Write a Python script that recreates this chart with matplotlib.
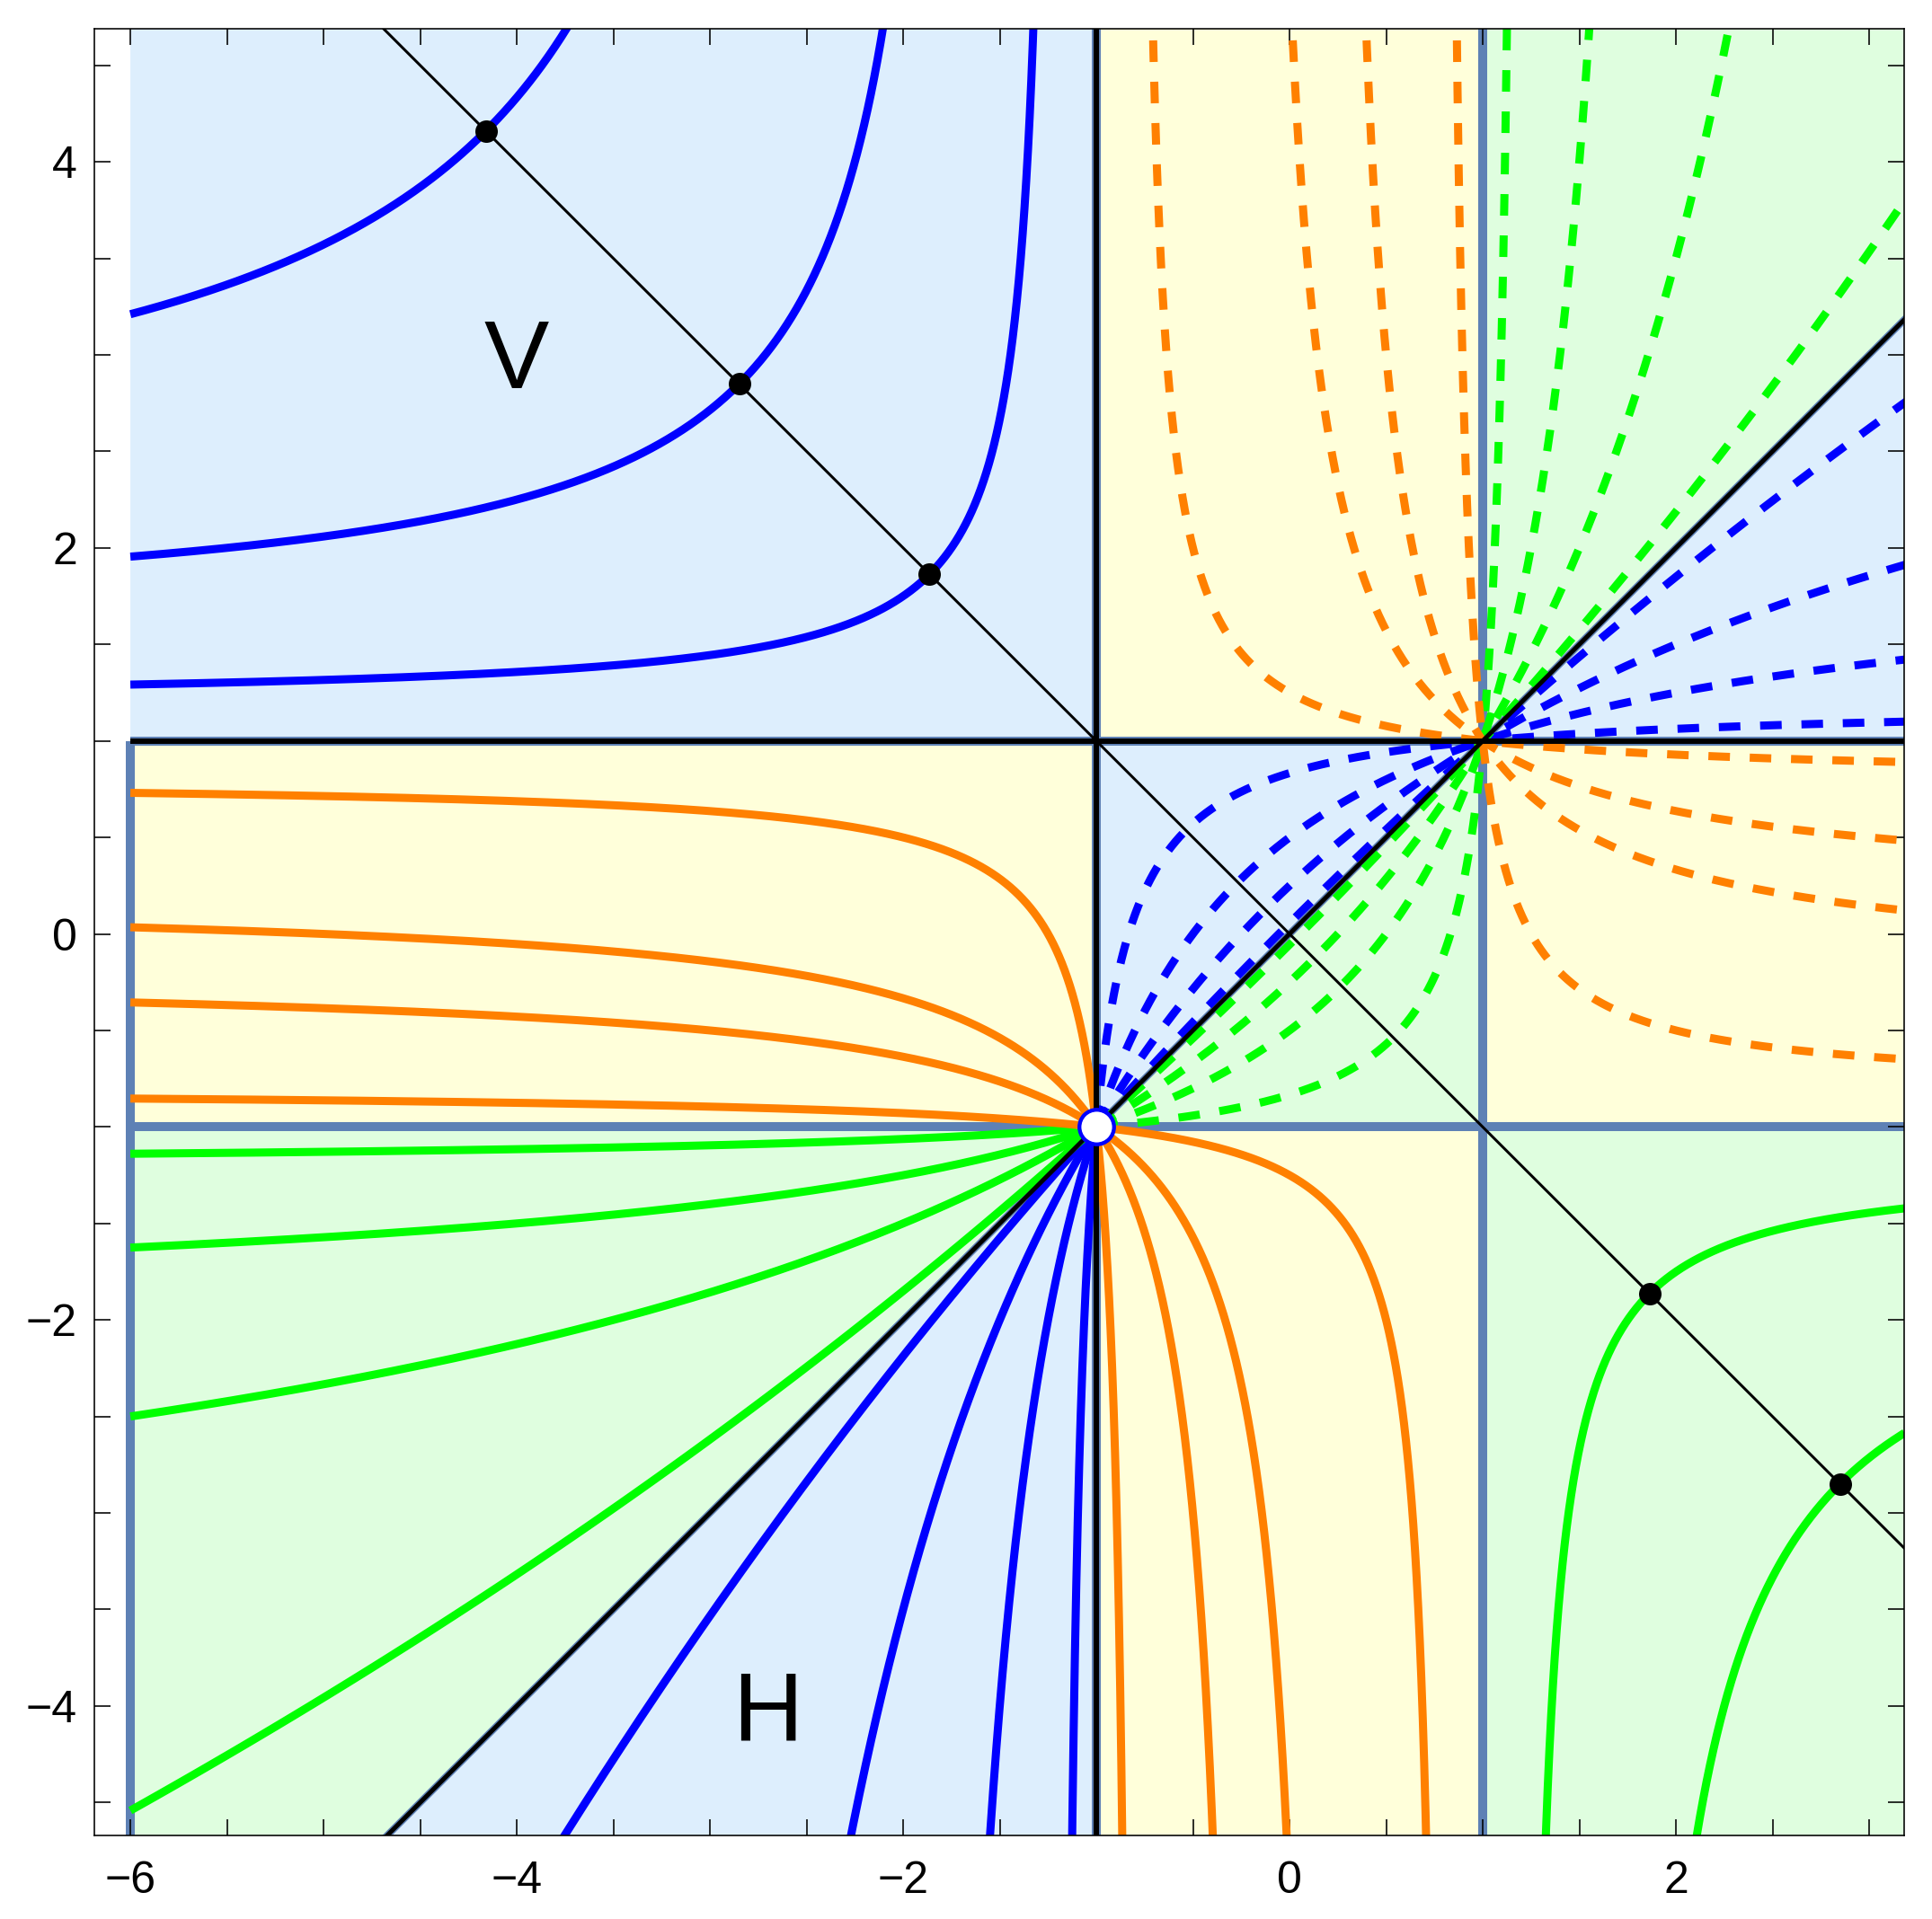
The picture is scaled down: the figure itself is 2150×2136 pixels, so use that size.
import numpy as np
import matplotlib
matplotlib.use("Agg")
import matplotlib.pyplot as plt
from matplotlib.ticker import MultipleLocator

plt.rcParams['font.family'] = ['Liberation Sans', 'DejaVu Sans']
plt.rcParams['lines.scale_dashes'] = False

# ---- data: hyperbolas (x + a)(y - a) = 1 - a^2  (level sets of (1 - x y)/(y - x) = a)
# families whose branch passes through (-1,-1) and (1,1)
blue_a_through = [1.2, 2.0, 4.0, 18.0]
green_a_through = [-1.2, -2.0, -4.0, -18.0]
orange_a_through = [0.8, 0.2, -0.2, -0.8]
# separate branches, marked at their vertex on y = -x
blue_a_vertex = [1.2, 1.6, 2.2]
green_a_vertex = [-1.2, -1.6, -2.2]
# text labels
label_text = ["V", "H"]
label_x = [-4.0, -2.7]
label_y = [3.0, -4.0]
open_point = (-1.0, -1.0)

# ---- styles
BLUE = "#0000FF"
GREEN = "#00FF00"
ORANGE = "#FF8000"
STEEL = "#5E81B5"
BG_BLUE = "#DDEEFD"
BG_YELLOW = "#FFFFDA"
BG_GREEN = "#DFFEDF"

XMIN, XMAX = -6.185, 3.18
YMIN, YMAX = -4.672, 4.688
DOM_X0 = -6.0

W, H = 2150, 2136
DPI = 100
fig = plt.figure(figsize=(W / DPI, H / DPI), dpi=DPI)
left_px, right_px = 105.3, 2118.7
top_px, bottom_px = 32.3, 2043.3
ax = fig.add_axes([left_px / W, 1 - bottom_px / H,
                   (right_px - left_px) / W, (bottom_px - top_px) / H])
ax.set_xlim(XMIN, XMAX)
ax.set_ylim(YMIN, YMAX)

PX = 72.0 / DPI  # points per pixel

# ---- background regions
X1, Y1, Y0 = XMAX + 0.5, YMAX + 0.5, YMIN - 0.5
regions = {
    BG_BLUE: [
        [(DOM_X0, 1), (-1, 1), (-1, Y1), (DOM_X0, Y1)],
        [(-1, -1), (-1, 1), (1, 1)],
        [(1, 1), (X1, X1), (X1, 1)],
        [(-1, -1), (Y0, Y0), (-1, Y0)],
    ],
    BG_GREEN: [
        [(DOM_X0, -1), (-1, -1), (Y0, Y0), (DOM_X0, Y0)],
        [(-1, -1), (1, 1), (1, -1)],
        [(1, 1), (1, Y1), (X1, Y1), (X1, X1)],
        [(1, -1), (X1, -1), (X1, Y0), (1, Y0)],
    ],
    BG_YELLOW: [
        [(DOM_X0, -1), (-1, -1), (-1, 1), (DOM_X0, 1)],
        [(-1, 1), (1, 1), (1, Y1), (-1, Y1)],
        [(1, -1), (X1, -1), (X1, 1), (1, 1)],
        [(-1, Y0), (1, Y0), (1, -1), (-1, -1)],
    ],
}
for col, polys in regions.items():
    for p in polys:
        p = np.array(p)
        ax.fill(p[:, 0], p[:, 1], color=col, lw=0.6, ec=col, zorder=0)

# ---- steel-blue region boundaries
SLW = 10 * PX
ax.plot([-1, -1], [Y0, Y1], color=STEEL, lw=SLW, zorder=1, solid_capstyle='butt')
ax.plot([1, 1], [Y0, Y1], color=STEEL, lw=SLW, zorder=1, solid_capstyle='butt')
ax.plot([DOM_X0, X1], [-1, -1], color=STEEL, lw=SLW, zorder=1, solid_capstyle='butt')
ax.plot([DOM_X0, X1], [1, 1], color=STEEL, lw=SLW, zorder=1, solid_capstyle='butt')
ax.plot([DOM_X0, DOM_X0], [Y0, 1], color=STEEL, lw=SLW, zorder=1, solid_capstyle='butt')
ax.plot([Y0, X1], [Y0, X1], color=STEEL, lw=8 * PX, zorder=1, solid_capstyle='butt')

# ---- hyperbola branches
CLW = 9 * PX
DASH = (0, (24 * PX, 22 * PX))


def branch(a, sign):
    r = sign * np.logspace(-5, 3, 8000)
    extra = [v for v in (DOM_X0 + a, -1 + a, 1 + a) if v * sign > 0]
    r = np.sort(np.concatenate([r, extra]))
    x = r - a
    y = a + (1 - a * a) / r
    keep = (x >= DOM_X0 - 1e-9) & (np.abs(y) < 40) & (x < 40)
    return x[keep], y[keep]


def draw(x, y, color):
    tol = 1e-9
    solid = (x <= -1 + tol) | (y <= -1 + tol)
    dashed = (x >= -1 - tol) & (y >= -1 - tol)
    if solid.sum() > 1:
        ax.plot(x[solid], y[solid], color=color, lw=CLW, zorder=3,
                solid_capstyle='butt', solid_joinstyle='round')
    if dashed.sum() > 1:
        ax.plot(x[dashed], y[dashed], color=color, lw=CLW, zorder=3,
                linestyle=DASH, dash_capstyle='butt')


for a in blue_a_through:
    draw(*branch(a, +1), BLUE)
for a in green_a_through:
    draw(*branch(a, -1), GREEN)
for a in orange_a_through:
    draw(*branch(a, -1), ORANGE)
    draw(*branch(a, +1), ORANGE)
for a in blue_a_vertex:
    draw(*branch(a, -1), BLUE)
for a in green_a_vertex:
    draw(*branch(a, +1), GREEN)

# ---- black lines
BLW = 6 * PX
ax.plot([-1, -1], [Y0, Y1], color='black', lw=BLW, zorder=4, solid_capstyle='butt')
ax.plot([DOM_X0, X1], [1, 1], color='black', lw=BLW, zorder=4, solid_capstyle='butt')
ax.plot([Y0, X1], [Y0, X1], color='black', lw=5 * PX, zorder=4, solid_capstyle='butt')
ax.plot([-Y1, X1], [Y1, -X1], color='black', lw=3 * PX, zorder=4, solid_capstyle='butt')

# ---- vertex dots
vx, vy = [], []
for a in blue_a_vertex:
    t = a + np.sqrt(a * a - 1)
    vx.append(-t); vy.append(t)
for a in green_a_vertex:
    t = -a + np.sqrt(a * a - 1)
    vx.append(t); vy.append(-t)
ax.plot(vx, vy, 'o', color='black', ms=25 * PX, zorder=5, mew=0)

ax.plot([open_point[0]], [open_point[1]], 'o', mfc='white', mec=BLUE,
        ms=38.5 * PX, mew=4.3 * PX, zorder=6)

# ---- labels
cap = 74.7 / 215.0
for s, lx, ly in zip(label_text, label_x, label_y):
    ax.text(lx, ly - cap / 2, s, fontsize=78, ha='center', va='baseline',
            zorder=7, family=['Liberation Sans', 'DejaVu Sans'])

# ---- axes / ticks
ax.xaxis.set_major_locator(MultipleLocator(2))
ax.yaxis.set_major_locator(MultipleLocator(2))
ax.xaxis.set_minor_locator(MultipleLocator(0.5))
ax.yaxis.set_minor_locator(MultipleLocator(0.5))
TL = 18 * PX
ax.tick_params(which='both', direction='in', length=TL, width=1.6 * PX,
               top=True, right=True, labelsize=36)
ax.tick_params(axis='x', which='major', pad=20)
ax.tick_params(axis='y', which='major', pad=14)
for sp in ax.spines.values():
    sp.set_linewidth(1.6 * PX)
    sp.set_zorder(10)

fig.savefig("out.png", dpi=DPI)
